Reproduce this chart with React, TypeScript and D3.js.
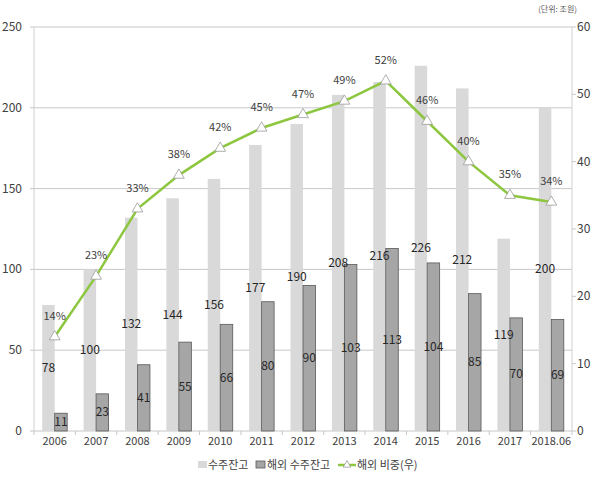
import React from "react";
import * as d3 from "d3";

const categories = ["2006","2007","2008","2009","2010","2011","2012","2013","2014","2015","2016","2017","2018.06"];
const backlog = [78,100,132,144,156,177,190,208,216,226,212,119,200];
const overseas = [11,23,41,55,66,80,90,103,113,104,85,70,69];
const share = [14,23,33,38,42,45,47,49,52,46,40,35,34];
const leftTicks = [0,50,100,150,200,250];
const rightTicks = [0,10,20,30,40,50,60];

const W = 592, H = 481;
const M = { left: 34, right: 572, top: 27, bottom: 431 };
const FONT = "'Noto Sans CJK KR', sans-serif";
const KFONT = "'Noto Sans CJK KR', sans-serif";

export default function App() {
  const x = d3.scaleBand<string>().domain(categories).range([M.left, M.right]).paddingInner(0).paddingOuter(0);
  const yL = d3.scaleLinear().domain([0, 250]).range([M.bottom, M.top]);
  const yR = d3.scaleLinear().domain([0, 60]).range([M.bottom, M.top]);
  const bw = 12.5;
  const cx = (c: string) => (x(c) as number) + x.bandwidth() / 2;
  const line = d3.line<number>().x((_, i) => cx(categories[i])).y(d => yR(d));
  const tri = d3.symbol().type(d3.symbolTriangle).size(50)();

  return (
    <svg width={W} height={H} style={{ position: "absolute", left: 0, top: 0, background: "#fff" }}>
      {leftTicks.filter(t => t > 0).map(t => (
        <line key={t} x1={M.left} x2={M.right} y1={yL(t)} y2={yL(t)} stroke="#c8c8c8" strokeWidth={1} />
      ))}
      <line x1={M.left} x2={M.left} y1={M.top} y2={M.bottom} stroke="#d0d0d0" />
      <line x1={M.right} x2={M.right} y1={M.top} y2={M.bottom} stroke="#d0d0d0" />
      <line x1={M.left} x2={M.right} y1={M.bottom} y2={M.bottom} stroke="#c8c8c8" />
      {categories.map((c, i) => (
        <line key={"xt" + i} x1={x(c) as number} x2={x(c) as number} y1={M.bottom} y2={M.bottom + 4} stroke="#c8c8c8" />
      ))}
      <line x1={M.right} x2={M.right} y1={M.bottom} y2={M.bottom + 4} stroke="#c8c8c8" />
      {leftTicks.map(t => (
        <g key={"l" + t}>
          <line x1={M.left - 4} x2={M.left} y1={yL(t)} y2={yL(t)} stroke="#c8c8c8" />
          <text x={22} y={yL(t) + 4} textAnchor="end" fontSize={12} fill="#404040" fontFamily={FONT}>{t}</text>
        </g>
      ))}
      {rightTicks.map(t => (
        <g key={"r" + t}>
          <line x1={M.right} x2={M.right + 4} y1={yR(t)} y2={yR(t)} stroke="#c8c8c8" />
          <text x={577} y={yR(t) + 4} textAnchor="start" fontSize={12} fill="#404040" fontFamily={FONT}>{t}</text>
        </g>
      ))}
      {categories.map((c, i) => (
        <g key={"b" + i}>
          <rect x={cx(c) - bw} y={yL(backlog[i])} width={bw} height={M.bottom - yL(backlog[i])} fill="#d9d9d9" />
          <rect x={cx(c)} y={yL(overseas[i])} width={bw} height={M.bottom - yL(overseas[i])} fill="#a6a6a6" stroke="#595959" strokeWidth={0.8} />
        </g>
      ))}
      {categories.map((c, i) => (
        <g key={"bl" + i} fontFamily={FONT} fontSize={12} fill="#262626">
          <text x={cx(c) - bw / 2} y={yL(backlog[i] / 2) + 4} textAnchor="middle">{backlog[i]}</text>
          <text x={cx(c) + bw / 2} y={yL(overseas[i] / 2) + 4} textAnchor="middle">{overseas[i]}</text>
        </g>
      ))}
      <path d={line(share) || ""} fill="none" stroke="#8dc63f" strokeWidth={2.5} />
      {share.map((v, i) => (
        <g key={"p" + i}>
          <path d={tri || ""} transform={`translate(${cx(categories[i])},${yR(v)})`} fill="#fff" stroke="#9a9a9a" strokeWidth={0.8} />
          <text x={cx(categories[i])} y={yR(v) - 17} textAnchor="middle" fontSize={11} fill="#404040" fontFamily={FONT}>{v}%</text>
        </g>
      ))}
      {categories.map((c, i) => (
        <text key={"x" + i} x={cx(c)} y={445} textAnchor="middle" fontSize={11} fill="#404040" fontFamily={FONT}>{c}</text>
      ))}
      <text x={577} y={12} textAnchor="end" fontSize={8} fill="#595959" fontFamily={KFONT}>(단위: 조원)</text>
      <g fontFamily={KFONT} fontSize={11} fill="#404040">
        <rect x={198} y={461} width={9} height={7} fill="#d9d9d9" />
        <text x={208} y={469}>수주잔고</text>
        <rect x={256} y={461} width={9} height={7} fill="#a6a6a6" stroke="#595959" strokeWidth={0.8} />
        <text x={267} y={469}>해외 수주잔고</text>
        <line x1={338} x2={356} y1={465} y2={465} stroke="#8dc63f" strokeWidth={2.5} />
        <path d={d3.symbol().type(d3.symbolTriangle).size(25)() || ""} transform="translate(347,465)" fill="#fff" stroke="#9a9a9a" strokeWidth={0.8} />
        <text x={357} y={469}>해외 비중(우)</text>
      </g>
    </svg>
  );
}
